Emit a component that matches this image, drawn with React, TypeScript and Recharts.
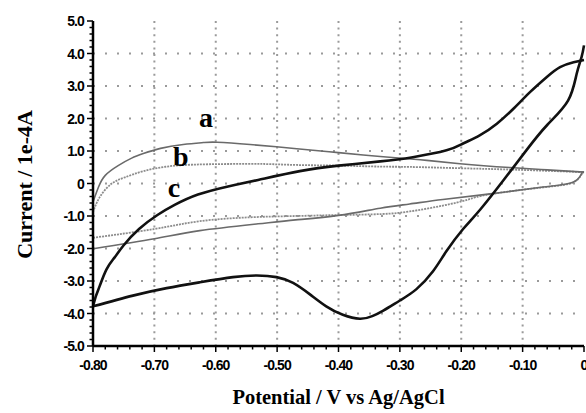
import React from "react";
import { LineChart, Line, XAxis, YAxis, CartesianGrid, ReferenceDot } from "recharts";

// tick labels
const X_MAJOR = [-0.8, -0.7, -0.6, -0.5, -0.4, -0.3, -0.2, -0.1, 0];
const X_LABELS = ["-0.80", "-0.70", "-0.60", "-0.50", "-0.40", "-0.30", "-0.20", "-0.10", "0"];
const Y_MAJOR = [5, 4, 3, 2, 1, 0, -1, -2, -3, -4, -5];
const Y_LABELS = ["5.0", "4.0", "3.0", "2.0", "1.0", "0", "-1.0", "-2.0", "-3.0", "-4.0", "-5.0"];

// minor ticks every 0.02 V / 0.2 units
const X_MINOR = Array.from({ length: 41 }, (_, i) => Math.round((-0.8 + i * 0.02) * 100) / 100);
const Y_MINOR = Array.from({ length: 51 }, (_, i) => Math.round((-5 + i * 0.2) * 10) / 10);

// curve c (black) - anodic and cathodic branches, [potential, current]
const cUpper: [number, number][] = [
  [-0.8, -3.78], [-0.795, -3.45], [-0.789, -3.15], [-0.778, -2.64], [-0.765, -2.28],
  [-0.75, -1.9], [-0.725, -1.4], [-0.695, -0.97], [-0.667, -0.66], [-0.629, -0.34],
  [-0.58, -0.09], [-0.531, 0.11], [-0.463, 0.38], [-0.4, 0.55], [-0.332, 0.68],
  [-0.279, 0.81], [-0.224, 1.02], [-0.197, 1.23], [-0.17, 1.48], [-0.142, 1.84],
  [-0.115, 2.3], [-0.088, 2.81], [-0.061, 3.27], [-0.039, 3.58], [-0.017, 3.73], [0, 3.8],
];
const cLower: [number, number][] = [
  [-0.8, -3.78], [-0.735, -3.45], [-0.68, -3.22], [-0.626, -3.04], [-0.572, -2.88],
  [-0.533, -2.83], [-0.501, -2.88], [-0.474, -3.06], [-0.446, -3.42], [-0.42, -3.78],
  [-0.393, -4.04], [-0.365, -4.16], [-0.345, -4.08], [-0.327, -3.91], [-0.3, -3.6],
  [-0.273, -3.25], [-0.246, -2.7], [-0.224, -2.08], [-0.197, -1.4], [-0.169, -0.8],
  [-0.13, 0.13], [-0.094, 1.02], [-0.06, 1.8], [-0.026, 2.55], [-0.012, 3.37],
  [-0.004, 3.89], [0, 4.25],
];

// curve a (dark grey)
const aUpper: [number, number][] = [
  [-0.8, -0.57], [-0.791, -0.11], [-0.78, 0.25], [-0.759, 0.55], [-0.737, 0.78],
  [-0.718, 0.92], [-0.69, 1.08], [-0.653, 1.2], [-0.62, 1.26], [-0.598, 1.27],
  [-0.544, 1.2], [-0.468, 1.07], [-0.4, 0.95], [-0.332, 0.83], [-0.267, 0.73],
  [-0.202, 0.61], [-0.121, 0.49], [-0.06, 0.42], [0, 0.35],
];
const aLower: [number, number][] = [
  [-0.8, -2.01], [-0.7, -1.7], [-0.626, -1.45], [-0.531, -1.24], [-0.47, -1.12],
  [-0.4, -0.98], [-0.332, -0.76], [-0.284, -0.63], [-0.23, -0.49], [-0.153, -0.32],
  [-0.067, -0.11], [-0.018, 0.04], [-0.004, 0.3], [0, 0.35],
];

// curve b (light grey)
const bUpper: [number, number][] = [
  [-0.8, -0.88], [-0.789, -0.42], [-0.77, -0.01], [-0.748, 0.19], [-0.718, 0.38],
  [-0.68, 0.52], [-0.637, 0.58], [-0.58, 0.6], [-0.52, 0.6], [-0.468, 0.57],
  [-0.4, 0.55], [-0.332, 0.52], [-0.284, 0.51], [-0.202, 0.47], [-0.121, 0.43],
  [-0.06, 0.39], [0, 0.35],
];
const bLower: [number, number][] = [
  [-0.8, -1.67], [-0.7, -1.4], [-0.626, -1.16], [-0.544, -1.04], [-0.47, -1.0],
  [-0.4, -0.97], [-0.33, -0.94], [-0.284, -0.86], [-0.23, -0.68], [-0.19, -0.5],
  [-0.153, -0.33], [-0.067, -0.12], [-0.018, 0.03], [-0.004, 0.28], [0, 0.35],
];

// curve letters
const curveLabels: { name: string; x: number; y: number }[] = [
  { name: "a", x: -0.616, y: 2.05 },
  { name: "b", x: -0.657, y: 0.83 },
  { name: "c", x: -0.668, y: -0.1 },
];

const pts = (arr: [number, number][]) => arr.map(([x, y]) => ({ x, y }));
const near = (a: number, b: number) => Math.abs(a - b) < 1e-6;

const tickFont = {
  fontFamily: "Arial, 'Liberation Sans', sans-serif",
  fontWeight: 700,
  fontSize: 14,
  letterSpacing: -0.9,
};
const titleFont = {
  fontFamily: "'Times New Roman', 'Liberation Serif', serif",
  fontWeight: 700,
};

function BottomTick({ x, y, payload }: any) {
  const idx = X_MAJOR.findIndex(m => near(m, payload.value));
  const major = idx >= 0;
  return (
    <g>
      <line x1={x} y1={y} x2={x} y2={y + (major ? 6 : 3.5)} stroke="#000" strokeWidth={1.5} />
      {major && (
        <text x={x} y={y + 24} textAnchor="middle" fill="#000" style={tickFont}>
          {X_LABELS[idx]}
        </text>
      )}
    </g>
  );
}

function TopTick({ x, y, payload }: any) {
  const major = X_MAJOR.some(m => near(m, payload.value));
  return <line x1={x} y1={y} x2={x} y2={y - (major ? 5 : 3)} stroke="#000" strokeWidth={1.5} />;
}

function LeftTick({ x, y, payload }: any) {
  const idx = Y_MAJOR.findIndex(m => near(m, payload.value));
  const major = idx >= 0;
  return (
    <g>
      <line x1={x} y1={y} x2={x - (major ? 6 : 3.5)} y2={y} stroke="#000" strokeWidth={1.5} />
      {major && (
        <text x={x - 9} y={y} dy="0.36em" textAnchor="end" fill="#000" style={tickFont}>
          {Y_LABELS[idx]}
        </text>
      )}
    </g>
  );
}

function RightTick({ x, y, payload }: any) {
  const major = Y_MAJOR.some(m => near(m, payload.value));
  return <line x1={x} y1={y} x2={x + (major ? 5 : 3)} y2={y} stroke="#000" strokeWidth={1.5} />;
}

function XTitle({ viewBox }: any) {
  if (!viewBox) return null;
  return (
    <text
      x={viewBox.x + viewBox.width / 2}
      y={viewBox.y + viewBox.height - 9}
      textAnchor="middle"
      fill="#000"
      style={{ ...titleFont, fontSize: 20.5 }}
    >
      Potential / V vs Ag/AgCl
    </text>
  );
}

function YTitle({ viewBox }: any) {
  if (!viewBox) return null;
  const cx = viewBox.x + 24;
  const cy = viewBox.y + viewBox.height / 2 + 1;
  return (
    <text
      x={cx}
      y={cy}
      transform={`rotate(-90 ${cx} ${cy})`}
      textAnchor="middle"
      dominantBaseline="central"
      fill="#000"
      style={{ ...titleFont, fontSize: 22 }}
    >
      Current / 1e-4A
    </text>
  );
}

const axisLine = { stroke: "#000", strokeWidth: 2.5 };

export default function App() {
  return (
    <div style={{ position: "absolute", left: 0, top: 0, width: 586, height: 413, background: "#fff" }}>
      <LineChart width={586} height={413} margin={{ top: 21, right: 2, bottom: 0, left: 0 }}>
        <CartesianGrid
          horizontal
          vertical={false}
          horizontalValues={[4, 3, 2, 1, 0, -1, -2, -3, -4]}
          stroke="#9a9a9a"
          strokeWidth={2}
          strokeDasharray="2 10"
        />
        <CartesianGrid
          horizontal={false}
          vertical
          verticalValues={[-0.7, -0.6, -0.5, -0.4, -0.3, -0.2, -0.1]}
          stroke="#9a9a9a"
          strokeWidth={2}
          strokeDasharray="2 4.6"
        />
        <XAxis
          dataKey="x"
          type="number"
          domain={[-0.8, 0]}
          ticks={X_MINOR}
          interval={0}
          tickSize={0}
          tickMargin={0}
          tickLine={false}
          axisLine={axisLine}
          tick={<BottomTick />}
          height={67}
          label={<XTitle />}
        />
        <XAxis
          xAxisId="top"
          orientation="top"
          type="number"
          domain={[-0.8, 0]}
          ticks={X_MINOR}
          interval={0}
          tickSize={0}
          tickMargin={0}
          tickLine={false}
          axisLine={axisLine}
          tick={<TopTick />}
          height={0}
        />
        <YAxis
          type="number"
          domain={[-5, 5]}
          ticks={Y_MINOR}
          interval={0}
          tickSize={0}
          tickMargin={0}
          tickLine={false}
          axisLine={axisLine}
          tick={<LeftTick />}
          width={93}
          label={<YTitle />}
        />
        <YAxis
          yAxisId="right"
          orientation="right"
          type="number"
          domain={[-5, 5]}
          ticks={Y_MINOR}
          interval={0}
          tickSize={0}
          tickMargin={0}
          tickLine={false}
          axisLine={axisLine}
          tick={<RightTick />}
          width={0}
        />
        <Line data={pts(bUpper)} dataKey="y" type="natural" stroke="#8c8c8c" strokeWidth={1.8} strokeDasharray="2 1" dot={false} isAnimationActive={false} />
        <Line data={pts(bLower)} dataKey="y" type="natural" stroke="#8c8c8c" strokeWidth={1.8} strokeDasharray="2 1" dot={false} isAnimationActive={false} />
        <Line data={pts(aUpper)} dataKey="y" type="natural" stroke="#6a6a6a" strokeWidth={1.6} dot={false} isAnimationActive={false} />
        <Line data={pts(aLower)} dataKey="y" type="natural" stroke="#6a6a6a" strokeWidth={1.6} dot={false} isAnimationActive={false} />
        <Line data={pts(cUpper)} dataKey="y" type="natural" stroke="#111" strokeWidth={2.6} dot={false} isAnimationActive={false} />
        <Line data={pts(cLower)} dataKey="y" type="natural" stroke="#111" strokeWidth={2.6} dot={false} isAnimationActive={false} />
        {curveLabels.map(l => (
          <ReferenceDot
            key={l.name}
            x={l.x}
            y={l.y}
            r={0}
            fill="none"
            stroke="none"
            label={{
              value: l.name,
              position: "center",
              fill: "#000",
              style: { ...titleFont, fontSize: 28 },
            }}
          />
        ))}
      </LineChart>
    </div>
  );
}
